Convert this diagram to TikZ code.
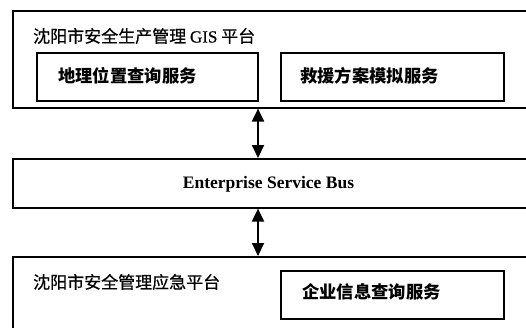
\documentclass[tikz,border=0pt]{standalone}
\usepackage{fontspec}
\setmainfont{Liberation Serif}
\newfontfamily\cjk{Noto Sans CJK SC}
\newfontfamily\cjkm[FakeBold=0.6]{Noto Sans CJK SC}
\newfontfamily\serifm[FakeBold=0.6]{Liberation Serif}
\usetikzlibrary{arrows.meta}
\begin{document}
\begin{tikzpicture}[x=1pt,y=-1pt,
  box/.style={draw, line width=1.6pt, anchor=north west, inner sep=0pt},
  lbl/.style={anchor=west, inner sep=0pt, font=\fontsize{17}{17}\selectfont\cjkm},
  svc/.style={anchor=west, inner sep=0pt, font=\fontsize{17.3}{17}\selectfont\cjk\bfseries},
  arr/.style={line width=2pt, {Triangle[length=13pt,width=12pt]}-{Triangle[length=13pt,width=12pt]}}]
\useasboundingbox (0,0) rectangle (526,327);
\clip (0,0) rectangle (526,327);
\fill[white] (0,0) rectangle (526,327);
% top platform
\node[box, minimum width=530pt, minimum height=97pt] (top) at (12,10) {};
\node[lbl] (toplbl) at (33,36) {沈阳市安全生产管理 {\serifm\fontsize{17}{17}\selectfont GIS} 平台};
\node[box, minimum width=221pt, minimum height=48pt] (geo) at (36,52) {};
\node[svc] (geotxt) at ([xshift=22pt,yshift=1pt]geo.west) {地理位置查询服务};
\node[box, minimum width=223pt, minimum height=48pt] (rescue) at (280,52) {};
\node[svc] (rescuetxt) at ([xshift=20pt,yshift=1pt]rescue.west) {救援方案模拟服务};
% ESB
\node[box, minimum width=530pt, minimum height=49pt] (esb) at (12,158) {};
\node[inner sep=0pt, font=\fontsize{17.5}{17}\selectfont\bfseries] (esbtxt) at (268.5,184) {Enterprise Service Bus};
% bottom platform
\node[box, minimum width=530pt, minimum height=90pt] (bot) at (12,256) {};
\node[lbl] (botlbl) at (33,282) {沈阳市安全管理应急平台};
\node[box, minimum width=223pt, minimum height=48pt] (ent) at (280,270) {};
\node[svc] (enttxt) at ([xshift=22pt,yshift=3pt]ent.west) {企业信息查询服务};
% connectors
\coordinate (ax) at (258,0);
\draw[arr] (ax |- top.south) -- (ax |- esb.north);
\draw[arr] (ax |- esb.south) -- (ax |- bot.north);
\end{tikzpicture}
\end{document}
